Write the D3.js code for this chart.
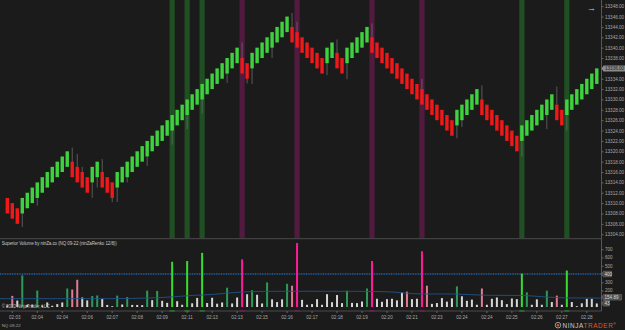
<!DOCTYPE html>
<html>
<head>
<meta charset="utf-8">
<script src="https://cdn.jsdelivr.net/npm/d3@7"></script>
<style>
  body { margin:0; background:#1b1b1b; }
  svg { display:block; font-family:"Liberation Sans", Arial, sans-serif; }
  .lbl { fill:#a8a8a8; font-size:4.6px; }
</style>
</head>
<body>
<svg id="chart"></svg>
<script>
const width = 625, height = 330;

// renko bricks (12/8), one per slot
const opens = [13311,13310,13309,13308,13309,13310,13311,13312,13313,13314,13315,13316,13317,13318,13317,13316,13315,13314,13315,13316,
  13315,13314,13313,13314,13315,13316,13317,13318,13319,13320,13321,13322,13323,13324,13325,13326,13327,13328,13329,13330,
  13331,13332,13333,13334,13335,13336,13337,13338,13337,13336,13337,13338,13339,13340,13341,13342,13343,13344,13343,13342,
  13341,13340,13339,13338,13337,13338,13339,13338,13337,13338,13339,13340,13341,13342,13341,13340,13339,13338,13337,13336,
  13335,13334,13333,13332,13331,13330,13329,13328,13327,13326,13325,13326,13327,13328,13329,13330,13329,13328,13327,13326,
  13325,13324,13323,13322,13323,13324,13325,13326,13327,13328,13329,13328,13327,13328,13329,13330,13331,13332,13333]
const closes = [13308,13307,13306,13311,13312,13313,13314,13315,13316,13317,13318,13319,13320,13315,13314,13313,13312,13317,13318,13313,
  13312,13311,13316,13317,13318,13319,13320,13321,13322,13323,13324,13325,13326,13327,13328,13329,13330,13331,13332,13333,
  13334,13335,13336,13337,13338,13339,13340,13335,13334,13339,13340,13341,13342,13343,13344,13345,13346,13341,13340,13339,
  13338,13337,13336,13335,13340,13341,13336,13335,13340,13341,13342,13343,13344,13339,13338,13337,13336,13335,13334,13333,
  13332,13331,13330,13329,13328,13327,13326,13325,13324,13323,13328,13329,13330,13331,13332,13327,13326,13325,13324,13323,
  13322,13321,13320,13325,13326,13327,13328,13329,13330,13331,13326,13325,13330,13331,13332,13333,13334,13335,13336]
const wickBars = [3,6,13,14,15,17,18,19,21,22,24,28,33,36,39,44,47,48,49,53,57,58,64,66,68,73,83,90,91,95,103,108,110,112]
const wickEnds = [13305.4,13309.5,13320.7,13319.5,13317,13311,13313,13318.5,13310.2,13310.2,13314,13317.2,13321.3,13324.3,13327.3,13333.2,13341,13333.1,13333,13338,
  13346.7,13345,13334.7,13341.6,13333.9,13344.7,13334,13322.5,13324.7,13332.7,13319,13324.3,13332.5,13324]

const volumes = [20,135,78,383,25,30,200,20,55,15,35,55,224,212,330,115,80,133,140,97,
  25,10,138,30,120,25,25,22,198,83,195,75,50,548,70,27,557,45,110,656,
  48,112,40,55,234,43,115,577,155,204,148,43,298,93,60,93,281,258,775,87,
  27,35,95,27,155,58,145,47,198,50,47,67,224,557,100,63,95,100,80,174,
  186,95,100,676,258,38,48,108,65,105,250,130,75,90,27,224,27,100,115,83,
  35,103,95,404,178,27,93,27,198,60,138,27,442,60,10,45,99,99,43]
const spikeBars = [33,36,39,47,58,73,83,103,112]
const aboveAvgBars = [1,3,6,12,13,14,17,18,22,24,28,30,44,49,52,56,57,68,72,80,84,90,95,104,108,110]
const avgBars = [-1.46,10,20,30,37,41,47,52,60,70,76,80,83,89,96,103,107,112,118.8]
const avgValues = [101,101,101,112,140,152,182,190,191,190,185,168,158,158,142,140,125,110,108]
const volLevel = 400

const priceTicks = [13304,13306,13308,13310,13312,13314,13316,13318,13320,13322,13324,13326,13328,13330,13332,13334,13338,13340,13342,13344,13346,13348]
const volTicks = [200,300,500,600,700]
const timeBars = [1,6,11,16,21,26,31,36,41,46,51,56,61,66,71,76,81,86,91,96,101,106,111,116]
const timeLabels = ['02:03','02:04','02:04','02:06','02:07','02:08','02:09','02:11','02:13','02:13','02:15','02:16',
  '02:17','02:18','02:19','02:20','02:21','02:23','02:24','02:24','02:25','02:26','02:27','02:28']

const axisX = 601.5

const x = d3.scaleLinear().domain([0,118]).range([7.3,596.8])
const y = d3.scaleLinear().domain([13304,13348]).range([234.2,6.2])
const yv = d3.scaleLinear().domain([0,700]).range([307,249.25])

const svg = d3.select('#chart')
  .attr('width',width)
  .attr('height',height)
  .attr('viewBox',[0,0,width,height])

svg.append('rect').attr('width',width).attr('height',height).attr('fill','#1b1b1b')

// highlight bands behind price bars
svg.append('g').selectAll('rect')
  .data(spikeBars)
  .enter().append('rect')
    .attr('x',d=>x(d)-2.6)
    .attr('y',0)
    .attr('width',5.2)
    .attr('height',238)
    .attr('fill',d=>closes[d]>opens[d] ? '#1f4f22' : '#531a40')

// wicks
svg.append('g').selectAll('line')
  .data(wickBars)
  .enter().append('line')
    .attr('x1',d=>x(d)).attr('x2',d=>x(d))
    .attr('y1',(d,i)=>y(wickEnds[i]))
    .attr('y2',d=>y((opens[d]+closes[d])/2))
    .attr('stroke','#6a6a6a')
    .attr('stroke-width',0.8)

// bodies
svg.append('g').selectAll('rect')
  .data(opens)
  .enter().append('rect')
    .attr('x',(d,i)=>x(i)-1.7)
    .attr('y',(d,i)=>y(Math.max(d,closes[i])))
    .attr('width',3.4)
    .attr('height',(d,i)=>y(Math.min(d,closes[i]))-y(Math.max(d,closes[i])))
    .attr('fill',(d,i)=>closes[i]>d ? '#3ed23e' : '#f01818')

// panel separators
svg.append('line').attr('x1',0).attr('x2',axisX).attr('y1',238.7).attr('y2',238.7).attr('stroke','#4a4a4a')
svg.append('line').attr('x1',0).attr('x2',axisX).attr('y1',311).attr('y2',311).attr('stroke','#4a4a4a')
svg.append('line').attr('x1',axisX).attr('x2',axisX).attr('y1',0).attr('y2',311).attr('stroke','#555')

// price axis
const pAxis = svg.append('g')
  .attr('transform',`translate(${axisX},0)`)
  .call(d3.axisRight(y).tickValues(priceTicks).tickFormat(d3.format('.2f')).tickSize(2))
pAxis.select('.domain').remove()
pAxis.selectAll('line').attr('stroke','#666')
pAxis.selectAll('text').attr('class','lbl').attr('x',3.5).attr('fill','#a8a8a8').attr('font-size','4.6px')

// last price marker
const last = closes[closes.length-1]
svg.append('path')
  .attr('d',`M${axisX},${y(last)} L${axisX+2},${y(last)-3} L625,${y(last)-3} L625,${y(last)+3} L${axisX+2},${y(last)+3} Z`)
  .attr('fill','#8c8c8c')
svg.append('text').attr('x',axisX+3.5).attr('y',y(last)+1.6)
  .attr('font-size','4.6px').attr('fill','#1e1e1e').text(d3.format('.2f')(last))

svg.append('text').attr('x',587).attr('y',11).attr('font-size','9px').attr('fill','#c8c8c8').text('\u2192')

// volume panel
svg.append('text').attr('x',1.7).attr('y',245).attr('font-size','4.5px').attr('fill','#c8c8c8')
  .attr('textLength',115).text('Superior Volume by ninZa.co (NQ 09-22 (ninZaRenko 12/8))')

svg.append('line')
  .attr('x1',0).attr('x2',axisX)
  .attr('y1',yv(volLevel)).attr('y2',yv(volLevel))
  .attr('stroke','#2462aa').attr('stroke-width',1.3).attr('stroke-dasharray','1,0.7')

function volColor(v,i){
  const up = closes[i]>opens[i]
  if (spikeBars.includes(i)) return up ? '#36dc2e' : '#ff1a98'
  if (aboveAvgBars.includes(i)) return up ? '#2f9a58' : '#e27a94'
  return '#d6d6d6'
}

svg.append('g').selectAll('rect')
  .data(volumes)
  .enter().append('rect')
    .attr('x',(d,i)=>x(i)-1)
    .attr('y',d=>yv(d))
    .attr('width',2)
    .attr('height',d=>yv(0)-yv(d))
    .attr('fill',volColor)

const avgLine = d3.line()
  .x(d=>x(d[0]))
  .y(d=>yv(d[1]))
  .curve(d3.curveMonotoneX)
svg.append('path')
  .datum(avgBars.map((b,i)=>[b,avgValues[i]]))
  .attr('d',avgLine)
  .attr('fill','none')
  .attr('stroke','#1f5288')
  .attr('stroke-width',0.9)

svg.append('text').attr('x',1.7).attr('y',307.5).attr('font-size','4.5px').attr('fill','#bdbdbd')
  .attr('textLength',48).text('\u00a9 2022 NinjaTrader, LLC')

// volume axis
const vAxis = svg.append('g')
  .attr('transform',`translate(${axisX},0)`)
  .call(d3.axisRight(yv).tickValues(volTicks).tickFormat(d=>d).tickSize(2))
vAxis.select('.domain').remove()
vAxis.selectAll('line').attr('stroke','#666')
vAxis.selectAll('text').attr('x',3.5).attr('fill','#a8a8a8').attr('font-size','4.6px')

const volBoxes = [[String(volLevel), yv(volLevel), 10], ['154.89', 297.3, 20], ['43', 303.3, 8]]
volBoxes.forEach(b=>{
  svg.append('path')
    .attr('d',`M${axisX},${b[1]} L${axisX+2},${b[1]-2.8} L${axisX+b[2]},${b[1]-2.8} L${axisX+b[2]},${b[1]+2.8} L${axisX+2},${b[1]+2.8} Z`)
    .attr('fill','#4b4b4b').attr('stroke','#7a7a7a').attr('stroke-width',0.5)
  svg.append('text').attr('x',axisX+3).attr('y',b[1]+1.6)
    .attr('font-size','4.6px').attr('fill','#dcdcdc').text(b[0])
})

// time axis
svg.append('g').selectAll('rect')
  .data(spikeBars)
  .enter().append('rect')
    .attr('x',d=>x(d)-2.6).attr('y',310).attr('width',5.2).attr('height',1.8)
    .attr('fill',d=>closes[d]>opens[d] ? '#2d6a2d' : '#6a2150')

svg.append('g').selectAll('line')
  .data(timeBars)
  .enter().append('line')
    .attr('x1',d=>x(d)).attr('x2',d=>x(d))
    .attr('y1',311).attr('y2',313)
    .attr('stroke','#666')

svg.append('g').selectAll('text')
  .data(timeLabels)
  .enter().append('text')
    .attr('x',(d,i)=>x(timeBars[i])+ (i===0 ? 2.5 : 0))
    .attr('y',319)
    .attr('text-anchor','middle')
    .attr('font-size','4.6px')
    .attr('fill','#a8a8a8')
    .text(d=>d)

svg.append('text').attr('x',1.7).attr('y',327).attr('font-size','4.4px').attr('fill','#a8a8a8').text('NQ 09-22')

// logo
const logo = svg.append('g').attr('transform','translate(555,328)')
logo.append('circle').attr('cx',3).attr('cy',-2.8).attr('r',2.8).attr('fill','none').attr('stroke','#bbb').attr('stroke-width',0.8)
logo.append('circle').attr('cx',3).attr('cy',-2.8).attr('r',1.3).attr('fill','#d9572b')
const lt = logo.append('text').attr('x',7.5).attr('y',0).attr('font-size','6.4px').attr('letter-spacing','0.6px')
lt.append('tspan').attr('fill','#cfcfcf').text('NINJA')
lt.append('tspan').attr('fill','#e0582c').text('TRADER')
lt.append('tspan').attr('fill','#bbb').attr('font-size','3px').attr('dy','-3').text('\u00ae')
</script>
</body>
</html>
